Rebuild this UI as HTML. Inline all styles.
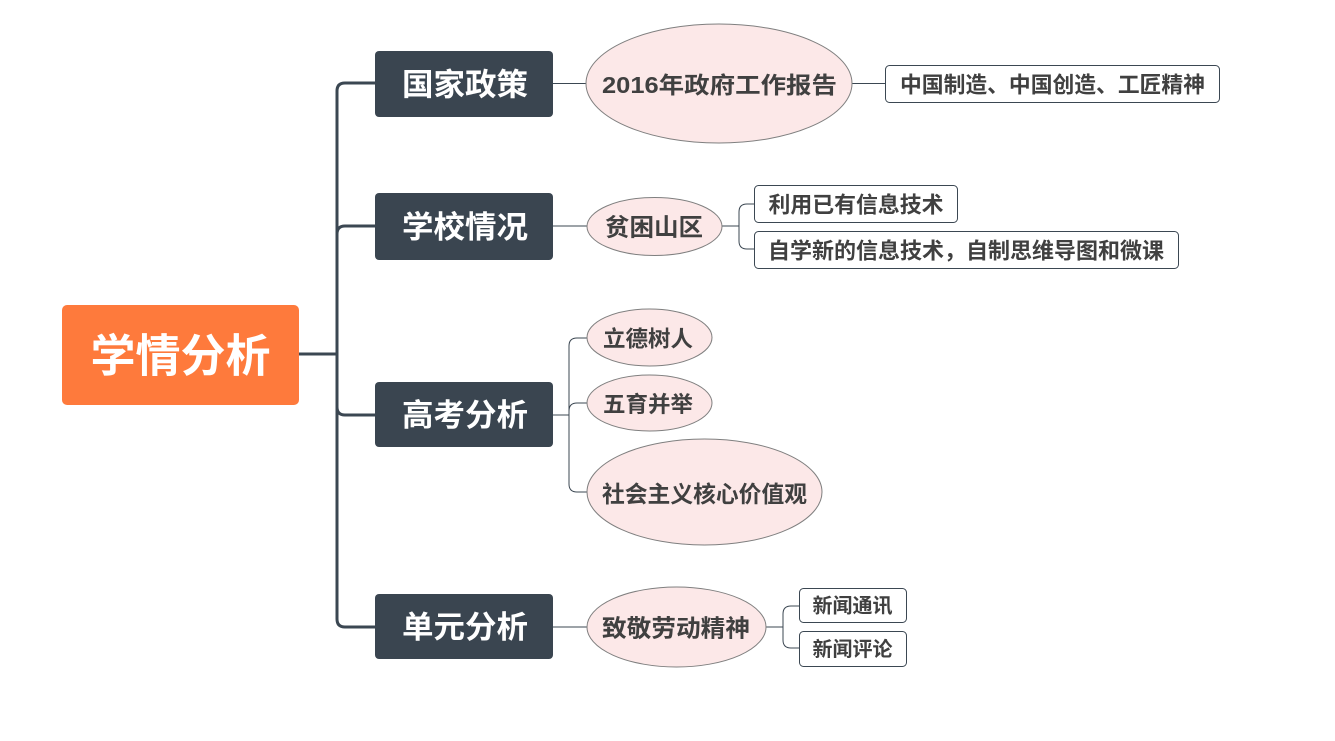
<!DOCTYPE html>
<html>
<head>
<meta charset="utf-8">
<style>
  html,body{margin:0;padding:0;background:#ffffff;}
  svg{display:block;}
  text{font-family:"Liberation Sans","Noto Sans CJK SC","WenQuanYi Zen Hei",sans-serif;font-weight:bold;}
</style>
</head>
<body>
<svg width="1335" height="741" viewBox="0 0 1335 741" xmlns="http://www.w3.org/2000/svg">
  <rect x="0" y="0" width="1335" height="741" fill="#ffffff"/>

  <!-- thick trunk connectors -->
  <g fill="none" stroke="#3B4752" stroke-width="3" stroke-linecap="butt">
    <path d="M299 354 H337"/>
    <path d="M337 354 V91 Q337 83 345 83 H376"/>
    <path d="M337 354 V234 Q337 226 345 226 H376"/>
    <path d="M337 354 V407 Q337 415 345 415 H376"/>
    <path d="M337 354 V619 Q337 627 345 627 H376"/>
  </g>

  <!-- thin connectors -->
  <g fill="none" stroke="#3B4752" stroke-width="1">
    <path d="M553 83.5 H586"/>
    <path d="M852 83.5 H885"/>
    <path d="M553 226 H587"/>
    <path d="M722 226 H739"/>
    <path d="M739 226 V212 Q739 204 747 204 H754"/>
    <path d="M739 226 V241 Q739 249 747 249 H754"/>
    <path d="M553 415 H569"/>
    <path d="M569 415 V346 Q569 338 577 338 H587"/>
    <path d="M569 415 V411 Q569 403 577 403 H587"/>
    <path d="M569 415 V484 Q569 492 577 492 H587"/>
    <path d="M553 627 H587"/>
    <path d="M766 627 H783"/>
    <path d="M783 627 V614 Q783 606 791 606 H799"/>
    <path d="M783 627 V640 Q783 648 791 648 H799"/>
  </g>

  <!-- root -->
  <rect x="62" y="305" width="237" height="100" rx="5" fill="#FE7A3C"/>
  <text x="180.5" y="356" font-size="45" fill="#ffffff" text-anchor="middle" dominant-baseline="central" textLength="180" lengthAdjust="spacingAndGlyphs">学情分析</text>

  <!-- level 1 boxes -->
  <g fill="#3A4550">
    <rect x="375" y="51" width="178" height="66" rx="4"/>
    <rect x="375" y="193" width="178" height="67" rx="4"/>
    <rect x="375" y="382" width="178" height="65" rx="4"/>
    <rect x="375" y="594" width="178" height="65" rx="4"/>
  </g>
  <g fill="#ffffff" font-size="31" text-anchor="middle" dominant-baseline="central">
    <text x="465" y="85" textLength="126" lengthAdjust="spacingAndGlyphs">国家政策</text>
    <text x="465" y="227.5" textLength="126" lengthAdjust="spacingAndGlyphs">学校情况</text>
    <text x="465" y="415.5" textLength="126" lengthAdjust="spacingAndGlyphs">高考分析</text>
    <text x="465" y="627.5" textLength="126" lengthAdjust="spacingAndGlyphs">单元分析</text>
  </g>

  <!-- ellipses -->
  <g fill="#FCE8E8" stroke="#7F7F7F" stroke-width="1">
    <ellipse cx="719" cy="83.5" rx="133" ry="59.5"/>
    <ellipse cx="654.5" cy="226.5" rx="67.5" ry="29"/>
    <ellipse cx="649.5" cy="337.5" rx="62.5" ry="28.5"/>
    <ellipse cx="649.5" cy="403" rx="62.5" ry="28"/>
    <ellipse cx="704.5" cy="492" rx="117.5" ry="53"/>
    <ellipse cx="676.5" cy="627" rx="89.5" ry="40"/>
  </g>
  <g fill="#404040" text-anchor="middle" dominant-baseline="central">
    <text x="719.5" y="85" font-size="23" textLength="235" lengthAdjust="spacingAndGlyphs">2016年政府工作报告</text>
    <text x="654" y="228" font-size="24" textLength="98" lengthAdjust="spacingAndGlyphs">贫困山区</text>
    <text x="648" y="339" font-size="22" textLength="90" lengthAdjust="spacingAndGlyphs">立德树人</text>
    <text x="648" y="404.5" font-size="22" textLength="90" lengthAdjust="spacingAndGlyphs">五育并举</text>
    <text x="704.5" y="494" font-size="23" textLength="205" lengthAdjust="spacingAndGlyphs">社会主义核心价值观</text>
    <text x="676" y="629" font-size="24" textLength="148" lengthAdjust="spacingAndGlyphs">致敬劳动精神</text>
  </g>

  <!-- rect leaf boxes -->
  <g fill="#ffffff" stroke="#3B4752" stroke-width="1">
    <rect x="885.5" y="65.5" width="334" height="37" rx="4"/>
    <rect x="754.5" y="185.5" width="203" height="37" rx="4"/>
    <rect x="754.5" y="231.5" width="424" height="37" rx="4"/>
    <rect x="799.5" y="588.5" width="107" height="34" rx="4"/>
    <rect x="799.5" y="631.5" width="107" height="35" rx="4"/>
  </g>
  <g fill="#404040" text-anchor="middle" dominant-baseline="central">
    <text x="1052.5" y="85" font-size="22" textLength="305" lengthAdjust="spacingAndGlyphs">中国制造、中国创造、工匠精神</text>
    <text x="856" y="205" font-size="22" textLength="175" lengthAdjust="spacingAndGlyphs">利用已有信息技术</text>
    <text x="966" y="251" font-size="22" textLength="396" lengthAdjust="spacingAndGlyphs">自学新的信息技术，自制思维导图和微课</text>
    <text x="852.5" y="606.5" font-size="20" textLength="80" lengthAdjust="spacingAndGlyphs">新闻通讯</text>
    <text x="852.5" y="650" font-size="20" textLength="80" lengthAdjust="spacingAndGlyphs">新闻评论</text>
  </g>
</svg>
</body>
</html>
